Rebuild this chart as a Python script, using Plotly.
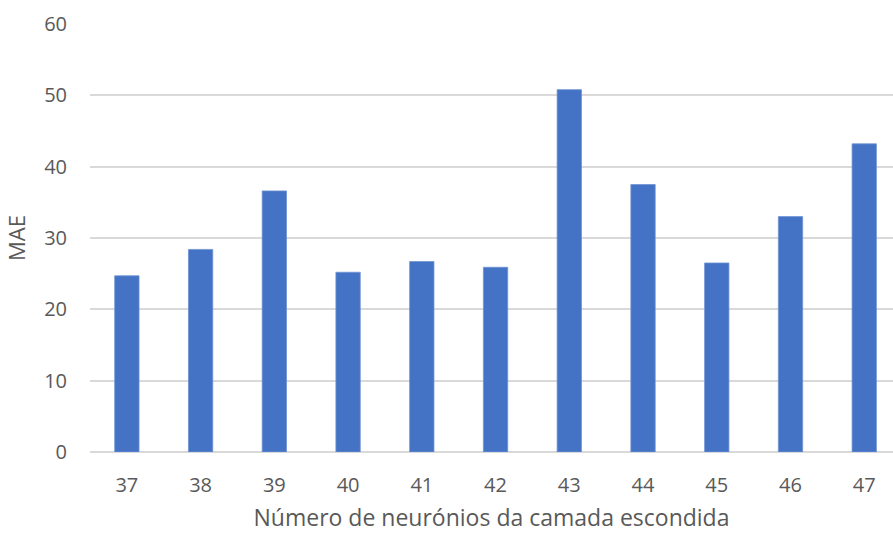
import plotly.graph_objects as go

# Hidden-layer neuron counts and the resulting MAE
neurons = ["37", "38", "39", "40", "41", "42", "43", "44", "45", "46", "47"]
mae = [24.7, 28.4, 36.6, 25.2, 26.7, 25.9, 50.8, 37.5, 26.5, 33.0, 43.2]
y_ticks = [0, 10, 20, 30, 40, 50, 60]

font_family = "Open Sans, Noto Sans, Liberation Sans, sans-serif"
text_color = "#595959"

fig = go.Figure(
    go.Bar(
        x=neurons,
        y=mae,
        marker=dict(color="#4472C4", line=dict(color="#6f93d3", width=0.8)),
    )
)

fig.update_layout(
    width=893,
    height=533,
    margin=dict(l=90, r=0, t=24, b=81),
    paper_bgcolor="white",
    plot_bgcolor="white",
    bargap=0.67,
    showlegend=False,
    font=dict(family=font_family, size=20, color=text_color),
)

fig.update_xaxes(
    type="category",
    range=[-0.5, 10.39],
    showgrid=False,
    showline=False,
    ticks="",
    ticklabelstandoff=19,
    tickfont=dict(size=20, color=text_color),
    title=dict(
        text="Número de neurónios da camada escondida",
        font=dict(size=23, color=text_color),
        standoff=13,
    ),
)

fig.update_yaxes(
    range=[0, 60],
    tickvals=y_ticks,
    showgrid=True,
    gridcolor="#d9d9d9",
    gridwidth=1.5,
    zeroline=True,
    zerolinecolor="#d9d9d9",
    zerolinewidth=1.5,
    showline=False,
    ticks="",
    ticklabelstandoff=22,
    tickfont=dict(size=20, color=text_color),
    title=dict(text="MAE", font=dict(size=22, color=text_color), standoff=12),
)

fig.write_html("out.html")
